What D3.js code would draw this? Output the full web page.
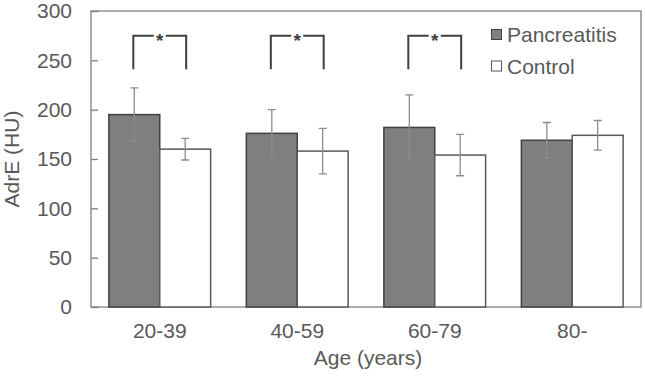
<!DOCTYPE html>
<html>
<head>
<meta charset="utf-8">
<script src="https://cdn.jsdelivr.net/npm/d3@7.9.0/dist/d3.min.js"></script>
<style>
  body { margin: 0; background: #fff; }
  text { font-family: "Liberation Sans", Arial, sans-serif; fill: #595959; }
</style>
</head>
<body>
<svg id="chart" width="645" height="379"></svg>
<script>
// data
const ageGroups = ['20-39', '40-59', '60-79', '80-'];
const pancreatitis = [195, 176, 182, 169];
const pancreatitisErr = [27, 24, 33, 18];
const control = [160, 158, 154, 174];
const controlErr = [11, 23, 21, 15];
const significant = [true, true, true, false];
const seriesNames = ['Pancreatitis', 'Control'];
const yTicks = [0, 50, 100, 150, 200, 250, 300];

const margin = { top: 11, right: 4, bottom: 72, left: 91 };
const width = 645, height = 379;
const innerW = width - margin.left - margin.right;
const innerH = height - margin.top - margin.bottom;

const svg = d3.select('#chart');
const g = svg.append('g').attr('transform', `translate(${margin.left},${margin.top})`);

const x = d3.scaleBand().domain(ageGroups).range([0, innerW]).paddingInner(0.26).paddingOuter(0.13);
const xSub = d3.scaleBand().domain(seriesNames).range([0, x.bandwidth()]);
const y = d3.scaleLinear().domain([0, 300]).range([innerH, 0]);

// plot box
g.append('rect')
  .attr('width', innerW).attr('height', innerH)
  .attr('fill', 'none').attr('stroke', '#7f7f7f').attr('stroke-width', 1.3);

// y axis, ticks point inwards
const yAxis = g.append('g').call(d3.axisLeft(y).tickValues(yTicks).tickSize(-7).tickPadding(19));
yAxis.select('.domain').remove();
yAxis.selectAll('line').attr('stroke', '#7f7f7f').attr('stroke-width', 1.3);
yAxis.selectAll('text').style('font-size', '21px').attr('fill', '#595959');

// x axis labels
const xAxis = g.append('g').attr('transform', `translate(0,${innerH})`)
  .call(d3.axisBottom(x).tickSize(0).tickPadding(16));
xAxis.select('.domain').remove();
xAxis.selectAll('text').style('font-size', '21px').attr('fill', '#595959');

const rows = ageGroups.map((a, i) => ({
  age: a,
  vals: [
    { s: 'Pancreatitis', v: pancreatitis[i], e: pancreatitisErr[i] },
    { s: 'Control', v: control[i], e: controlErr[i] }
  ],
  sig: significant[i]
}));

const fills = { Pancreatitis: '#7f7f7f', Control: '#ffffff' };
const strokes = { Pancreatitis: '#404040', Control: '#595959' };

const grp = g.selectAll('.grp').data(rows).join('g')
  .attr('class', 'grp')
  .attr('transform', d => `translate(${x(d.age)},0)`);

grp.selectAll('rect').data(d => d.vals).join('rect')
  .attr('x', d => xSub(d.s))
  .attr('y', d => y(d.v))
  .attr('width', xSub.bandwidth())
  .attr('height', d => innerH - y(d.v))
  .attr('fill', d => fills[d.s])
  .attr('stroke', d => strokes[d.s])
  .attr('stroke-width', 1.5);

// error bars
const cap = 4;
grp.selectAll('.err').data(d => d.vals).join('path')
  .attr('class', 'err')
  .attr('d', d => {
    const cx = xSub(d.s) + xSub.bandwidth() / 2;
    const t = y(d.v + d.e), b = y(d.v - d.e);
    return `M${cx},${t}V${b}M${cx - cap},${t}H${cx + cap}M${cx - cap},${b}H${cx + cap}`;
  })
  .attr('fill', 'none').attr('stroke', '#8c8c8c').attr('stroke-width', 1.3);

// significance brackets
const br = grp.filter(d => d.sig);
br.append('path')
  .attr('d', () => {
    const x1 = xSub('Pancreatitis') + xSub.bandwidth() / 2 - 1;
    const x2 = xSub('Control') + xSub.bandwidth() / 2 + 1;
    const mid = (x1 + x2) / 2;
    const top = y(275), bot = y(241);
    return `M${x1},${bot}V${top}H${mid - 6}M${mid + 6},${top}H${x2}V${bot}`;
  })
  .attr('fill', 'none').attr('stroke', '#404040').attr('stroke-width', 2);
br.append('text')
  .attr('x', x.bandwidth() / 2).attr('y', y(275) + 11)
  .attr('text-anchor', 'middle')
  .style('font-size', '19px').style('font-weight', 'bold')
  .style('fill', '#404040')
  .text('*');

// legend
const legend = g.append('g').attr('transform', `translate(${491 - margin.left},${18})`);
seriesNames.forEach((s, i) => {
  const row = legend.append('g').attr('transform', `translate(0,${i * 31.5})`);
  row.append('rect').attr('x', 0.5).attr('y', 0.5).attr('width', 10).attr('height', 10)
    .attr('fill', fills[s]).attr('stroke', strokes[s]).attr('stroke-width', 1);
  row.append('text').attr('x', 16).attr('y', 13)
    .style('font-size', '21px').text(s);
});

// axis titles
svg.append('text')
  .attr('transform', `translate(19,${margin.top + innerH / 2}) rotate(-90)`)
  .attr('text-anchor', 'middle').style('font-size', '21px')
  .text('AdrE (HU)');
svg.append('text')
  .attr('x', margin.left + innerW / 2 + 2).attr('y', 365)
  .attr('text-anchor', 'middle').style('font-size', '21px')
  .text('Age (years)');
</script>
</body>
</html>
